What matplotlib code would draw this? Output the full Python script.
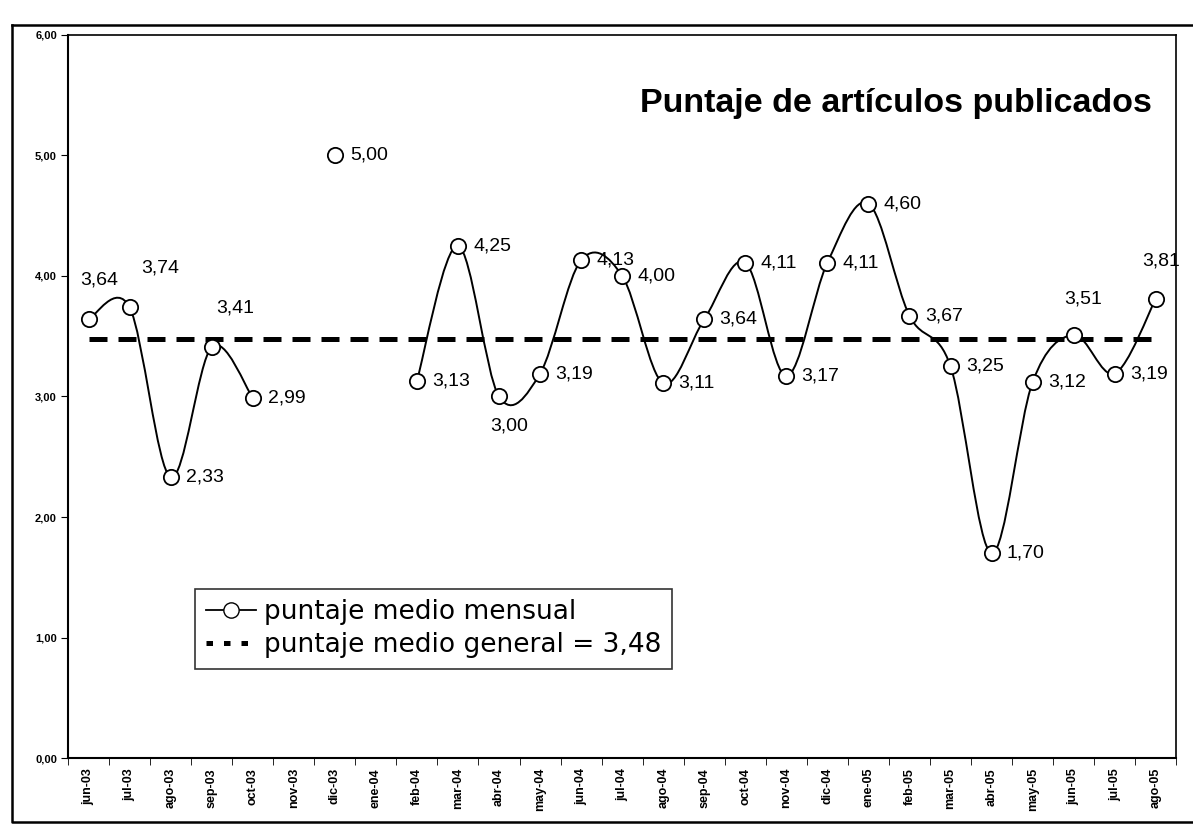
"""Puntaje de artículos publicados: monthly mean score vs. overall mean."""

import matplotlib
matplotlib.use("Agg")
import matplotlib.pyplot as plt
import numpy as np
from matplotlib.path import Path
from matplotlib.patches import PathPatch
from matplotlib.lines import Line2D

plt.rcParams["font.family"] = ["Liberation Sans", "DejaVu Sans"]

# ---- Data ----
MONTHS = [
    "jun-03", "jul-03", "ago-03", "sep-03", "oct-03", "nov-03", "dic-03",
    "ene-04", "feb-04", "mar-04", "abr-04", "may-04", "jun-04", "jul-04",
    "ago-04", "sep-04", "oct-04", "nov-04", "dic-04", "ene-05", "feb-05",
    "mar-05", "abr-05", "may-05", "jun-05", "jul-05", "ago-05",
]
MONTHLY_SCORE = [
    3.64, 3.74, 2.33, 3.41, 2.99, np.nan, 5.00,
    np.nan, 3.13, 4.25, 3.00, 3.19, 4.13, 4.00,
    3.11, 3.64, 4.11, 3.17, 4.11, 4.60, 3.67,
    3.25, 1.70, 3.12, 3.51, 3.19, 3.81,
]
OVERALL_MEAN = 3.48
Y_TICKS = [0, 1, 2, 3, 4, 5, 6]

# label offsets (points) for labels not placed to the right of the marker
LABEL_OFFSET = {0: (8, 28), 1: (22, 28), 3: (17, 28), 10: (7, -21),
                24: (7, 26), 26: (4, 27)}


def smooth_path(xs, ys):
    """Bezier curve through consecutive points (like Excel's smoothed line)."""
    pts = np.column_stack([xs, ys])
    verts = [pts[0]]
    codes = [Path.MOVETO]
    n = len(pts)
    for i in range(n - 1):
        p0 = pts[max(i - 1, 0)]
        p1 = pts[i]
        p2 = pts[i + 1]
        p3 = pts[min(i + 2, n - 1)]
        c1 = p1 + (p2 - p0) / 6
        c2 = p2 - (p3 - p1) / 6
        verts += [c1, c2, p2]
        codes += [Path.CURVE4] * 3
    return Path(verts, codes)


def main():
    x = np.arange(len(MONTHS))
    y = np.array(MONTHLY_SCORE, dtype=float)

    fig = plt.figure(figsize=(11.93, 8.26), dpi=100)
    ax = fig.add_axes([0.057, 0.082, 0.929, 0.876])

    # smoothed line, broken at missing months
    valid = ~np.isnan(y)
    start = None
    for i in range(len(y) + 1):
        ok = i < len(y) and valid[i]
        if ok and start is None:
            start = i
        elif not ok and start is not None:
            if i - start > 1:
                p = smooth_path(x[start:i], y[start:i])
                ax.add_patch(PathPatch(p, fill=False, edgecolor="black",
                                       linewidth=1.4, zorder=2))
            start = None

    ax.plot(x[valid], y[valid], linestyle="none", marker="o", markersize=11,
            markerfacecolor="white", markeredgecolor="black",
            markeredgewidth=1.3, zorder=3)

    # overall mean
    ax.plot([x[0], x[-1]], [OVERALL_MEAN, OVERALL_MEAN], color="black",
            linewidth=3.6, dashes=(3.6, 2.2), zorder=1)

    # data labels
    for i in np.where(valid)[0]:
        txt = f"{y[i]:.2f}".replace(".", ",")
        if i in LABEL_OFFSET:
            off, ha = LABEL_OFFSET[i], "center"
        else:
            off, ha = (11, 0), "left"
        ax.annotate(txt, (x[i], y[i]), xytext=off, textcoords="offset points",
                    ha=ha, va="center", fontsize=14)

    ax.set_xlim(-0.5, len(MONTHS) - 0.5)
    ax.set_ylim(0, 6)
    ax.set_yticks(Y_TICKS)
    ax.set_yticklabels([f"{v:.2f}".replace(".", ",") for v in Y_TICKS],
                       fontsize=8, fontweight="bold")
    ax.set_xticks(x)
    ax.set_xticklabels(MONTHS, rotation=90, fontsize=9, fontweight="bold")
    ax.set_xticks(np.arange(-0.5, len(MONTHS)), minor=True)
    ax.tick_params(axis="x", which="major", length=0, pad=7)
    ax.tick_params(axis="x", which="minor", length=5, direction="out")
    ax.tick_params(axis="y", length=5, direction="out", pad=3)

    for side in ("left", "bottom"):
        ax.spines[side].set_linewidth(1.5)
    for side in ("top", "right"):
        ax.spines[side].set_linewidth(1.2)

    ax.text(0.978, 0.905, "Puntaje de artículos publicados",
            transform=ax.transAxes, ha="right", va="center",
            fontsize=24.5, fontweight="bold")

    # legend
    handles = [
        Line2D([], [], color="black", linewidth=1.3, marker="o",
               markersize=11, markerfacecolor="white", markeredgecolor="black"),
        Line2D([], [], color="black", linewidth=3.6, dashes=(1.3, 2.2)),
    ]
    labels = ["puntaje medio mensual",
              f"puntaje medio general = {OVERALL_MEAN:.2f}".replace(".", ",")]
    leg = ax.legend(handles, labels, loc="lower left",
                    bbox_to_anchor=(0.115, 0.124),
                    prop={"family": ["DejaVu Sans"], "size": 19},
                    frameon=True, fancybox=False, edgecolor="black",
                    handlelength=1.9, handletextpad=0.3, borderpad=0.4,
                    labelspacing=0.25, borderaxespad=0)
    leg.get_frame().set_linewidth(1.2)

    # outer chart border (left, top and bottom edges of the chart area)
    fig.add_artist(Line2D([0.010, 0.010, 1.0], [0.970, 0.005, 0.005],
                          transform=fig.transFigure, color="black",
                          linewidth=1.8))
    fig.add_artist(Line2D([0.010, 1.0], [0.970, 0.970],
                          transform=fig.transFigure, color="black",
                          linewidth=1.8))

    fig.savefig("out.png", dpi=100)


if __name__ == "__main__":
    main()
